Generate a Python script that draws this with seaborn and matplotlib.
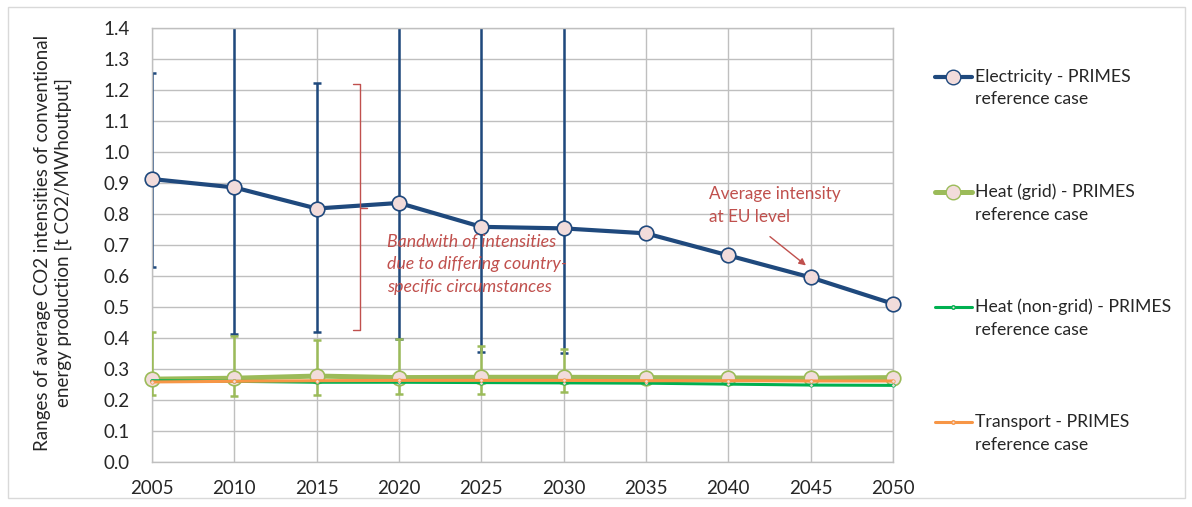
import numpy as np
import pandas as pd
import matplotlib
matplotlib.use('Agg')
import matplotlib.pyplot as plt
import seaborn as sns
from matplotlib.lines import Line2D
from matplotlib.patches import Rectangle
from matplotlib.legend_handler import HandlerLine2D

years = [2005, 2010, 2015, 2020, 2025, 2030, 2035, 2040, 2045, 2050]

electricity = [0.912, 0.885, 0.817, 0.835, 0.758, 0.753, 0.737, 0.666, 0.595, 0.510]
heat_grid = [0.267, 0.270, 0.277, 0.272, 0.273, 0.273, 0.272, 0.271, 0.270, 0.272]
heat_nongrid = [0.262, 0.260, 0.257, 0.257, 0.256, 0.255, 0.254, 0.251, 0.248, 0.247]
transport = [0.258, 0.260, 0.262, 0.263, 0.263, 0.263, 0.262, 0.262, 0.261, 0.261]

# country ranges (min / max), only given up to 2030; tops above 1.4 are cut off
range_years = [2005, 2010, 2015, 2020, 2025, 2030]
elec_low = [0.629, 0.414, 0.419, 0.398, 0.353, 0.350]
elec_high = [1.254, 1.60, 1.221, 1.60, 1.60, 1.60]
heat_low = [0.215, 0.212, 0.215, 0.218, 0.218, 0.224]
heat_high = [0.419, 0.405, 0.393, 0.398, 0.373, 0.364]

labels = ['Electricity - PRIMES\nreference case',
          'Heat (grid) - PRIMES\nreference case',
          'Heat (non-grid) - PRIMES\nreference case',
          'Transport - PRIMES\nreference case']

BLUE = '#1F497D'
LGREEN = '#9BBB59'
GREEN = '#00B050'
ORANGE = '#F79646'
PINK = '#F2DCDB'
RED = '#C0504D'
GRID = '#BFBFBF'


class FirstLineHandler(HandlerLine2D):
    # put the legend line level with the first text line, not the middle
    def __init__(self, dy=8.2, **kw):
        super().__init__(**kw)
        self.dy = dy

    def create_artists(self, legend, orig_handle, xdescent, ydescent, width, height,
                       fontsize, trans):
        return super().create_artists(legend, orig_handle, xdescent, ydescent - 2 * self.dy,
                                      width, height, fontsize, trans)


sns.set_style('white')
plt.rcParams['font.family'] = ['Lato', 'DejaVu Sans']

fig = plt.figure(figsize=(11.92, 5.07), dpi=100)
ax = fig.add_axes([0.1275, 0.0888, 0.6216, 0.8566])

df = pd.DataFrame({'year': years, 'Electricity': electricity, 'Heat grid': heat_grid,
                   'Heat non-grid': heat_nongrid, 'Transport': transport})

e_idx = [years.index(y) for y in range_years]
e_mid = np.array([electricity[i] for i in e_idx])
h_mid = np.array([heat_grid[i] for i in e_idx])
ax.errorbar(range_years, e_mid, yerr=[e_mid - np.array(elec_low), np.array(elec_high) - e_mid],
            fmt='none', ecolor=BLUE, elinewidth=1.8, capsize=2.6, capthick=1.8, zorder=2)
ax.errorbar(range_years, h_mid, yerr=[h_mid - np.array(heat_low), np.array(heat_high) - h_mid],
            fmt='none', ecolor=LGREEN, elinewidth=1.8, capsize=2.6, capthick=1.8, zorder=3)

sns.lineplot(data=df, x='year', y='Electricity', ax=ax, color=BLUE, lw=3.0, marker='o',
             markersize=10.5, markerfacecolor=PINK, markeredgecolor=BLUE, markeredgewidth=1.2,
             zorder=4, clip_on=False)
sns.lineplot(data=df, x='year', y='Heat grid', ax=ax, color=LGREEN, lw=3.6, marker='o',
             markersize=10.5, markerfacecolor=PINK, markeredgecolor=LGREEN, markeredgewidth=1.2,
             zorder=5, clip_on=False)
sns.lineplot(data=df, x='year', y='Heat non-grid', ax=ax, color=GREEN, lw=2.2, marker='o',
             markersize=2.5, markerfacecolor=PINK, markeredgecolor=GREEN, markeredgewidth=0.5,
             zorder=6, clip_on=False)
sns.lineplot(data=df, x='year', y='Transport', ax=ax, color=ORANGE, lw=2.2, marker='o',
             markersize=2.5, markerfacecolor=PINK, markeredgecolor=ORANGE, markeredgewidth=0.5,
             zorder=7, clip_on=False)

ax.set_xlim(2005, 2050)
ax.set_ylim(0, 1.4)
ax.set_xticks(years)
yt = np.arange(0, 1.41, 0.1)
ax.set_yticks(yt)
ax.set_yticklabels([f'{v:.1f}' for v in yt])
ax.tick_params(length=0, labelsize=13.5)
ax.tick_params(axis='y', pad=16)
ax.tick_params(axis='x', pad=13)
ax.grid(True, color=GRID, lw=1)
ax.set_axisbelow(True)
for s in ax.spines.values():
    s.set_color(GRID)
    s.set_linewidth(1)
ax.set_xlabel('')
ax.set_ylabel('Ranges of average CO2 intensities of conventional\nenergy production [t CO2/MWhoutput]',
              fontsize=13.5, linespacing=1.27)
ax.yaxis.set_label_coords(-0.108, 0.505)

# annotations
bx = 2017.63
ax.plot([bx - 0.45, bx, bx, bx - 0.45], [1.218, 1.218, 0.425, 0.425], color=RED, lw=1, zorder=8)
ax.plot([bx, bx + 0.45], [0.818, 0.818], color=RED, lw=1, zorder=8)
ax.text(2019.25, 0.736, 'Bandwith of intensities\ndue to differing country-\nspecific circumstances',
        color=RED, fontsize=12.8, style='italic', va='top', ha='left', linespacing=1.52, zorder=9)
ax.text(2038.8, 0.889, 'Average intensity\nat EU level', color=RED, fontsize=12.3,
        va='top', ha='left', linespacing=1.5, zorder=9)
ax.annotate('', xy=(2044.85, 0.628), xytext=(2042.4, 0.732),
            arrowprops=dict(arrowstyle='-|>', color=RED, lw=1, mutation_scale=10), zorder=9)

# legend
handles = [
    Line2D([], [], color=BLUE, lw=3.0, marker='o', markersize=10.5, markerfacecolor=PINK,
           markeredgecolor=BLUE),
    Line2D([], [], color=LGREEN, lw=3.6, marker='o', markersize=10.5, markerfacecolor=PINK,
           markeredgecolor=LGREEN),
    Line2D([], [], color=GREEN, lw=2.2, marker='o', markersize=2.5, markerfacecolor=PINK,
           markeredgecolor=GREEN),
    Line2D([], [], color=ORANGE, lw=2.2, marker='o', markersize=2.5, markerfacecolor=PINK,
           markeredgecolor=ORANGE),
]
leg = fig.legend(handles, labels, loc='upper left', bbox_to_anchor=(0.7844, 0.864), frameon=False,
                 fontsize=12.7, handlelength=2.08, handletextpad=0.19, labelspacing=4.32,
                 borderpad=0, borderaxespad=0, handler_map={Line2D: FirstLineHandler()})
for t in leg.get_texts():
    t.set_linespacing(1.5)

fig.patches.append(Rectangle((0.007, 0.018), 0.987, 0.968, transform=fig.transFigure,
                             fill=False, edgecolor='#D9D9D9', lw=1))

fig.savefig('out.png', dpi=100)
